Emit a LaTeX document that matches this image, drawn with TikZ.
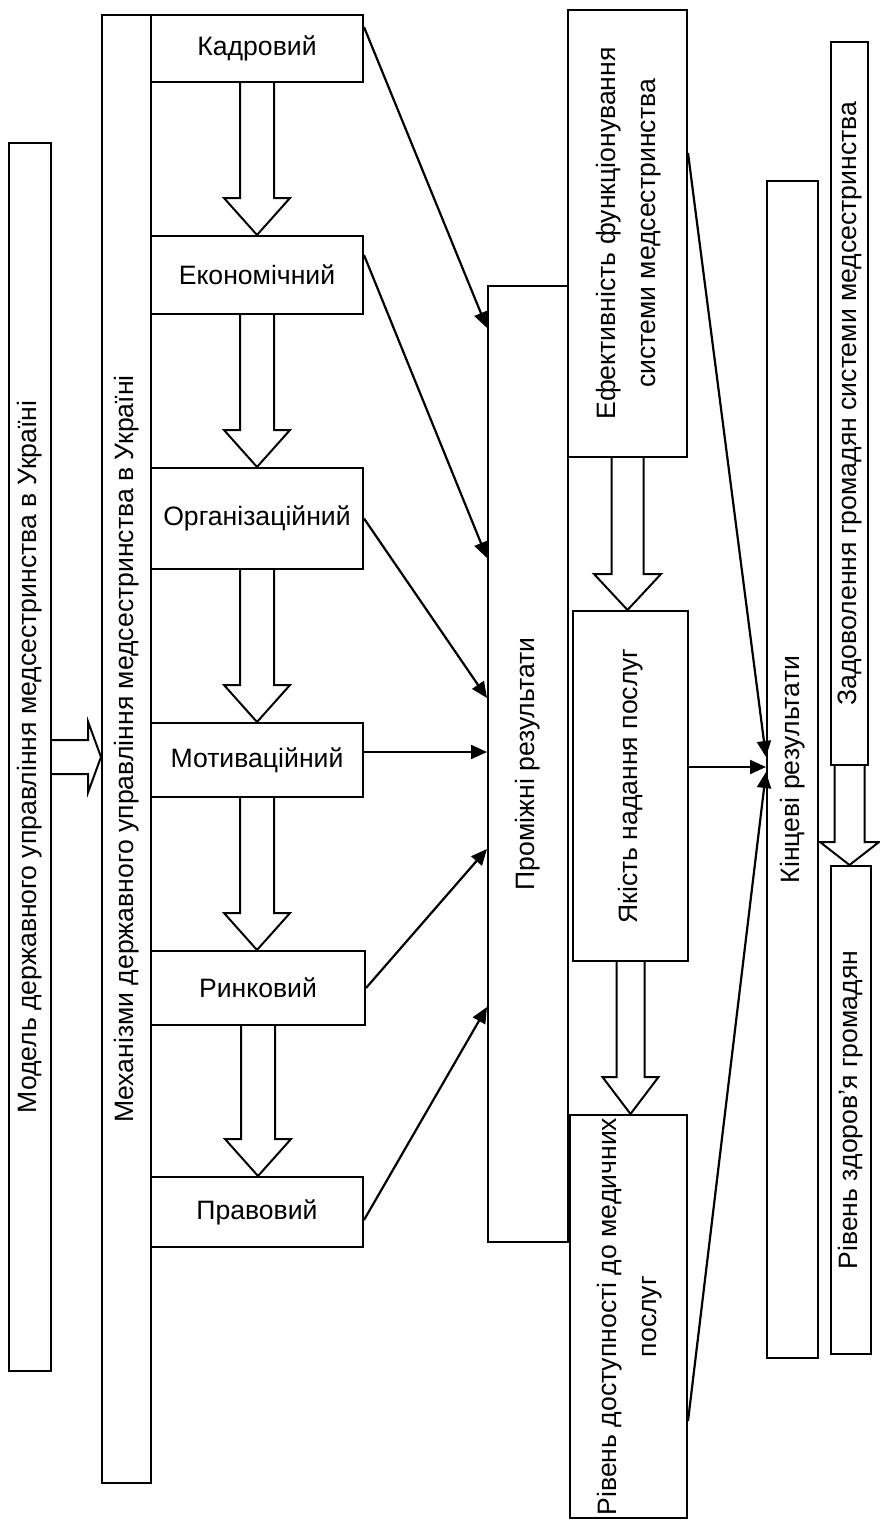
\documentclass[tikz,border=0pt]{standalone}
\usepackage{fontspec}
\setmainfont{Liberation Sans}
\usepackage{graphicx}
\usetikzlibrary{calc,arrows.meta}

\newcommand{\blockdown}[5]{%
	\draw[fat] let \p1=(#1.south), \p2=(#2.north) in
		(\x1-#3,\y1) -- (\x1-#3,\y2+#5) -- (\x1-#4,\y2+#5) -- (\x1,\y2)
		-- (\x1+#4,\y2+#5) -- (\x1+#3,\y2+#5) -- (\x1+#3,\y1);}
\newcommand{\blockright}[5]{%
	\draw[fat] let \p1=(#1.east), \p2=(#2.west) in
		(\x1,\y1+#3) -- (\x2-#5,\y1+#3) -- (\x2-#5,\y1+#4) -- (\x2,\y1)
		-- (\x2-#5,\y1-#4) -- (\x2-#5,\y1-#3) -- (\x1,\y1-#3);}

\begin{document}
\begin{tikzpicture}[x=0.5pt, y=-0.5pt,
		box/.style={draw, line width=1pt, inner sep=0pt, align=center, font=\fontsize{13.3}{20}\selectfont},
		link/.style={line width=1.1pt, -{Triangle[length=8pt, width=7pt]}},
		fat/.style={draw, line width=1pt}]
				\useasboundingbox (0,0) rectangle (879,1527);
				
				\node[box, minimum width=21pt, minimum height=614pt] (model) at (30,757) {\rotatebox{90}{Модель державного управління медсестринства в Україні}};
				\node[box, minimum width=24.5pt, minimum height=734pt] (mech) at (126.5,749) {\rotatebox{90}{Механізми державного управління медсестринства в Україні}};
				
				\node[box, minimum width=106pt, minimum height=33.5pt] (kadr) at (257,48.5) {Кадровий};
				\node[box, minimum width=106pt, minimum height=39pt] (ekon) at (257,275) {Економічний};
				\node[box, minimum width=106pt, minimum height=50.5pt] (orgn) at (257,518.5) {Організаційний};
				\node[box, minimum width=106pt, minimum height=37pt] (motyv) at (257,760) {Мотиваційний};
				\node[box, minimum width=107pt, minimum height=37pt] (rynk) at (258,988) {Ринковий};
				\node[box, minimum width=106pt, minimum height=35pt] (prav) at (257,1212) {Правовий};
				
				\node[box, minimum width=40pt, minimum height=478pt] (prom) at (528,764) {\rotatebox{90}{Проміжні результати}};
				\node[box, minimum width=59.5pt, minimum height=223.5pt] (efekt) at (627.5,233.5) {\rotatebox{90}{\begin{tabular}{@{}c@{}}Ефективність функціонування\\системи медсестринства\end{tabular}}};
				\node[box, minimum width=57.5pt, minimum height=175pt] (yakist) at (630.5,786) {\rotatebox{90}{Якість надання послуг}};
				\node[box, minimum width=58.5pt, minimum height=201.5pt] (dostup) at (628.5,1316.5) {\rotatebox{90}{\begin{tabular}{@{}c@{}}Рівень доступності до медичних\\послуг\end{tabular}}};
				
				\node[box, minimum width=25.5pt, minimum height=588.5pt] (kinc) at (792.5,769.5) {\rotatebox{90}{Кінцеві результати}};
				\node[box, minimum width=18.5pt, minimum height=361.5pt] (zadov) at (849.5,403.5) {\rotatebox{90}{Задоволення громадян системи медсестринства}};
				\node[box, minimum width=20pt, minimum height=244pt] (zdorov) at (851,1110) {\rotatebox{90}{Рівень здоров’я громадян}};
				
				\blockright{model}{mech}{8.5pt}{17.75pt}{6.5pt}
				\blockdown{kadr}{ekon}{8.5pt}{16.5pt}{18.5pt}
				\blockdown{ekon}{orgn}{8.5pt}{16.5pt}{18.5pt}
				\blockdown{orgn}{motyv}{8.5pt}{16.5pt}{18.5pt}
				\blockdown{motyv}{rynk}{8.5pt}{16.5pt}{18.5pt}
				\blockdown{rynk}{prav}{8.5pt}{16.5pt}{18.5pt}
				\blockdown{efekt}{yakist}{8pt}{16.75pt}{18pt}
				\blockdown{yakist}{dostup}{7pt}{14pt}{18.5pt}
				\blockdown{zadov}{zdorov}{7.5pt}{14.75pt}{11.5pt}
				
				\draw[link] ([yshift=10.75pt]kadr.east) -- ([yshift=218pt]prom.west);
				\draw[link] ([yshift=10pt]ekon.east) -- ([yshift=103pt]prom.west);
				\draw[link] (orgn.east) -- ([yshift=33pt]prom.west);
				\draw[link] ([yshift=4pt]motyv.east) -- ([yshift=6pt]prom.west);
				\draw[link] (rynk.east) -- ([yshift=-42.5pt]prom.west);
				\draw[link] ([yshift=-4pt]prav.east) -- ([yshift=-121.5pt]prom.west);
				
				\draw[link] ([yshift=40.25pt]efekt.east) -- ([yshift=6.25pt]kinc.west);
				\draw[link] ([yshift=9.5pt]yakist.east) -- ([yshift=1.25pt]kinc.west);
				\draw[link] ([yshift=-52.25pt]dostup.east) -- ([yshift=-1.25pt]kinc.west);
			\end{tikzpicture}
\end{document}
